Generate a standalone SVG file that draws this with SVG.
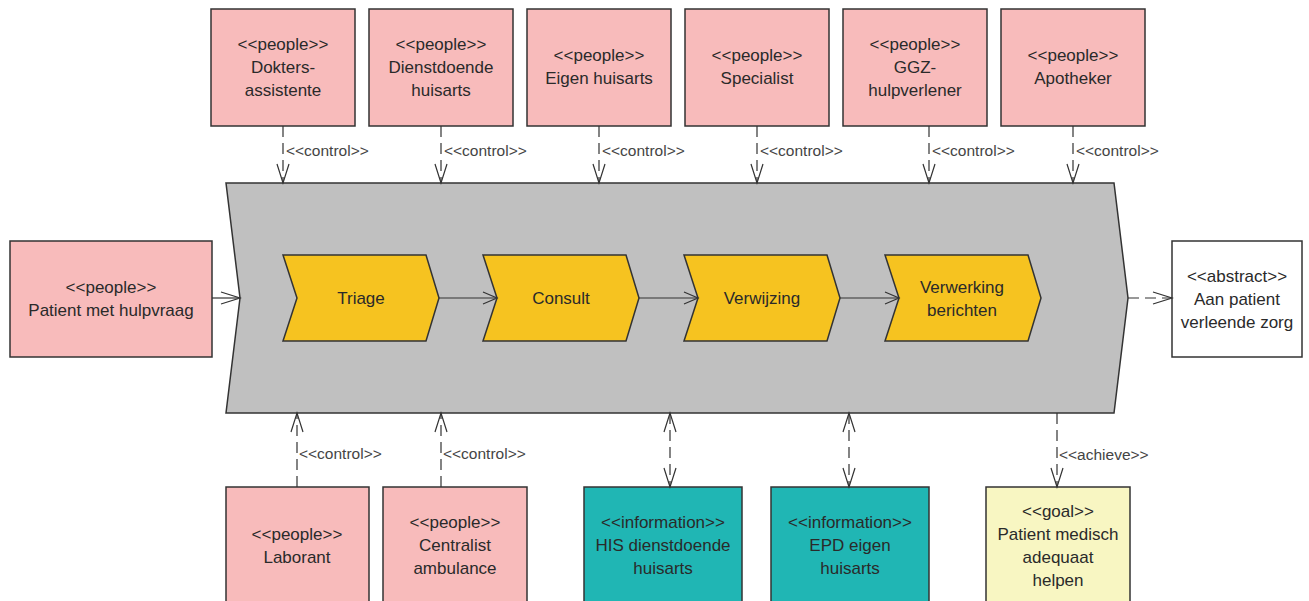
<svg xmlns="http://www.w3.org/2000/svg" width="1309" height="601" viewBox="0 0 1309 601">
  <style>
    .node { stroke: #333; stroke-width: 1.5; }
    .people { fill: #F8BBBB; }
    .info { fill: #20B6B4; }
    .goal { fill: #F8F6C2; }
    .abstract { fill: #FFFFFF; }
    .process { fill: #C0C0C0; stroke: #333; stroke-width: 1.5; }
    .step { fill: #F6C320; stroke: #333; stroke-width: 1.5; }
    text { font-family: "Liberation Sans", Arial, sans-serif; fill: #2a2a2a; }
    .t { font-size: 17px; text-anchor: middle; }
    .lbl { font-size: 15.5px; fill: #444; }
    .dash { fill: none; stroke: #333; stroke-width: 1.2; stroke-dasharray: 11 6; }
    .solid { fill: none; stroke: #333; stroke-width: 1.2; }
  </style>
  <defs>
    <marker id="open" markerUnits="userSpaceOnUse" markerWidth="24" markerHeight="16" viewBox="-20 -8 24 16" refX="0" refY="0" orient="auto-start-reverse">
      <path d="M-19,-6 L0,0 L-19,6" fill="none" stroke="#333" stroke-width="1.2"/>
    </marker>
    <marker id="flow" markerUnits="userSpaceOnUse" markerWidth="20" markerHeight="16" viewBox="-16 -8 20 16" refX="0" refY="0" orient="auto">
      <path d="M-14,-6 L0,0 L-14,6" fill="none" stroke="#333" stroke-width="1.2"/>
    </marker>
  </defs>

  <rect width="1309" height="601" fill="#FFFFFF"/>

  <!-- value stream container -->
  <g id="process">
    <path class="process" d="M226,183 L1114,183 L1128,298 L1114,413 L226,413 L240,298 Z"/>
  </g>

  <!-- process steps -->
  <g id="step-triage">
    <path class="step" d="M283,255 L426,255 L439,298 L426,341 L283,341 L297,298 Z"/>
    <text class="t" x="361" y="304">Triage</text>
  </g>
  <g id="step-consult">
    <path class="step" d="M483,255 L626,255 L639,298 L626,341 L483,341 L497,298 Z"/>
    <text class="t" x="561" y="304">Consult</text>
  </g>
  <g id="step-verwijzing">
    <path class="step" d="M684,255 L827,255 L840,298 L827,341 L684,341 L698,298 Z"/>
    <text class="t" x="762" y="304">Verwijzing</text>
  </g>
  <g id="step-verwerking">
    <path class="step" d="M885,255 L1028,255 L1041,298 L1028,341 L885,341 L899,298 Z"/>
    <text class="t" x="962" y="293">Verwerking</text>
    <text class="t" x="962" y="316">berichten</text>
  </g>

  <!-- top actors -->
  <g id="dokters-assistente">
    <rect class="node people" x="211" y="9" width="144" height="117"/>
    <text class="t" x="283" y="50">&lt;&lt;people&gt;&gt;</text>
    <text class="t" x="283" y="73">Dokters-</text>
    <text class="t" x="283" y="96">assistente</text>
  </g>
  <g id="dienstdoende-huisarts">
    <rect class="node people" x="369" y="9" width="144" height="117"/>
    <text class="t" x="441" y="50">&lt;&lt;people&gt;&gt;</text>
    <text class="t" x="441" y="73">Dienstdoende</text>
    <text class="t" x="441" y="96">huisarts</text>
  </g>
  <g id="eigen-huisarts">
    <rect class="node people" x="527" y="9" width="144" height="117"/>
    <text class="t" x="599" y="61">&lt;&lt;people&gt;&gt;</text>
    <text class="t" x="599" y="84">Eigen huisarts</text>
  </g>
  <g id="specialist">
    <rect class="node people" x="685" y="9" width="144" height="117"/>
    <text class="t" x="757" y="61">&lt;&lt;people&gt;&gt;</text>
    <text class="t" x="757" y="84">Specialist</text>
  </g>
  <g id="ggz-hulpverlener">
    <rect class="node people" x="843" y="9" width="144" height="117"/>
    <text class="t" x="915" y="50">&lt;&lt;people&gt;&gt;</text>
    <text class="t" x="915" y="73">GGZ-</text>
    <text class="t" x="915" y="96">hulpverlener</text>
  </g>
  <g id="apotheker">
    <rect class="node people" x="1001" y="9" width="144" height="117"/>
    <text class="t" x="1073" y="61">&lt;&lt;people&gt;&gt;</text>
    <text class="t" x="1073" y="84">Apotheker</text>
  </g>

  <!-- side nodes -->
  <g id="patient">
    <rect class="node people" x="10" y="241" width="202" height="116"/>
    <text class="t" x="111" y="293">&lt;&lt;people&gt;&gt;</text>
    <text class="t" x="111" y="316">Patient met hulpvraag</text>
  </g>
  <g id="verleende-zorg">
    <rect class="node abstract" x="1172" y="241" width="130" height="116"/>
    <text class="t" x="1237" y="282">&lt;&lt;abstract&gt;&gt;</text>
    <text class="t" x="1237" y="305">Aan patient</text>
    <text class="t" x="1237" y="328">verleende zorg</text>
  </g>

  <!-- bottom nodes -->
  <g id="laborant">
    <rect class="node people" x="226" y="487" width="143" height="120"/>
    <text class="t" x="297" y="540">&lt;&lt;people&gt;&gt;</text>
    <text class="t" x="297" y="563">Laborant</text>
  </g>
  <g id="centralist-ambulance">
    <rect class="node people" x="383" y="487" width="144" height="120"/>
    <text class="t" x="455" y="528">&lt;&lt;people&gt;&gt;</text>
    <text class="t" x="455" y="551">Centralist</text>
    <text class="t" x="455" y="574">ambulance</text>
  </g>
  <g id="his-dienstdoende">
    <rect class="node info" x="584" y="487" width="158" height="120"/>
    <text class="t" x="663" y="528">&lt;&lt;information&gt;&gt;</text>
    <text class="t" x="663" y="551">HIS dienstdoende</text>
    <text class="t" x="663" y="574">huisarts</text>
  </g>
  <g id="epd-eigen">
    <rect class="node info" x="771" y="487" width="158" height="120"/>
    <text class="t" x="850" y="528">&lt;&lt;information&gt;&gt;</text>
    <text class="t" x="850" y="551">EPD eigen</text>
    <text class="t" x="850" y="574">huisarts</text>
  </g>
  <g id="goal">
    <rect class="node goal" x="986" y="487" width="144" height="120"/>
    <text class="t" x="1058" y="517">&lt;&lt;goal&gt;&gt;</text>
    <text class="t" x="1058" y="540">Patient medisch</text>
    <text class="t" x="1058" y="563">adequaat</text>
    <text class="t" x="1058" y="586">helpen</text>
  </g>

  <!-- connectors -->
  <g id="connectors">
    <!-- flow between steps -->
    <line class="solid" x1="439" y1="298" x2="497" y2="298" marker-end="url(#flow)"/>
    <line class="solid" x1="639" y1="298" x2="698" y2="298" marker-end="url(#flow)"/>
    <line class="solid" x1="840" y1="298" x2="899" y2="298" marker-end="url(#flow)"/>
    <!-- patient into process -->
    <line class="solid" x1="212" y1="298" x2="240" y2="298" marker-end="url(#open)"/>
    <!-- process result -->
    <line class="dash" x1="1128" y1="298" x2="1172" y2="298" marker-end="url(#open)"/>

    <!-- control from top actors -->
    <line class="dash" x1="283" y1="126" x2="283" y2="183" marker-end="url(#open)"/>
    <line class="dash" x1="441" y1="126" x2="441" y2="183" marker-end="url(#open)"/>
    <line class="dash" x1="599" y1="126" x2="599" y2="183" marker-end="url(#open)"/>
    <line class="dash" x1="757" y1="126" x2="757" y2="183" marker-end="url(#open)"/>
    <line class="dash" x1="929" y1="126" x2="929" y2="183" marker-end="url(#open)"/>
    <line class="dash" x1="1073" y1="126" x2="1073" y2="183" marker-end="url(#open)"/>
    <text class="lbl" x="286" y="156">&lt;&lt;control&gt;&gt;</text>
    <text class="lbl" x="444" y="156">&lt;&lt;control&gt;&gt;</text>
    <text class="lbl" x="602" y="156">&lt;&lt;control&gt;&gt;</text>
    <text class="lbl" x="760" y="156">&lt;&lt;control&gt;&gt;</text>
    <text class="lbl" x="932" y="156">&lt;&lt;control&gt;&gt;</text>
    <text class="lbl" x="1076" y="156">&lt;&lt;control&gt;&gt;</text>

    <!-- control from bottom actors -->
    <line class="dash" x1="297" y1="487" x2="297" y2="413" marker-end="url(#open)"/>
    <line class="dash" x1="441" y1="487" x2="441" y2="413" marker-end="url(#open)"/>
    <text class="lbl" x="299" y="459">&lt;&lt;control&gt;&gt;</text>
    <text class="lbl" x="443" y="459">&lt;&lt;control&gt;&gt;</text>

    <!-- information exchange -->
    <line class="dash" x1="670" y1="413" x2="670" y2="487" marker-start="url(#open)" marker-end="url(#open)"/>
    <line class="dash" x1="849" y1="413" x2="849" y2="487" marker-start="url(#open)" marker-end="url(#open)"/>

    <!-- goal -->
    <line class="dash" x1="1057" y1="413" x2="1057" y2="487" marker-end="url(#open)"/>
    <text class="lbl" x="1059" y="460">&lt;&lt;achieve&gt;&gt;</text>
  </g>
</svg>
